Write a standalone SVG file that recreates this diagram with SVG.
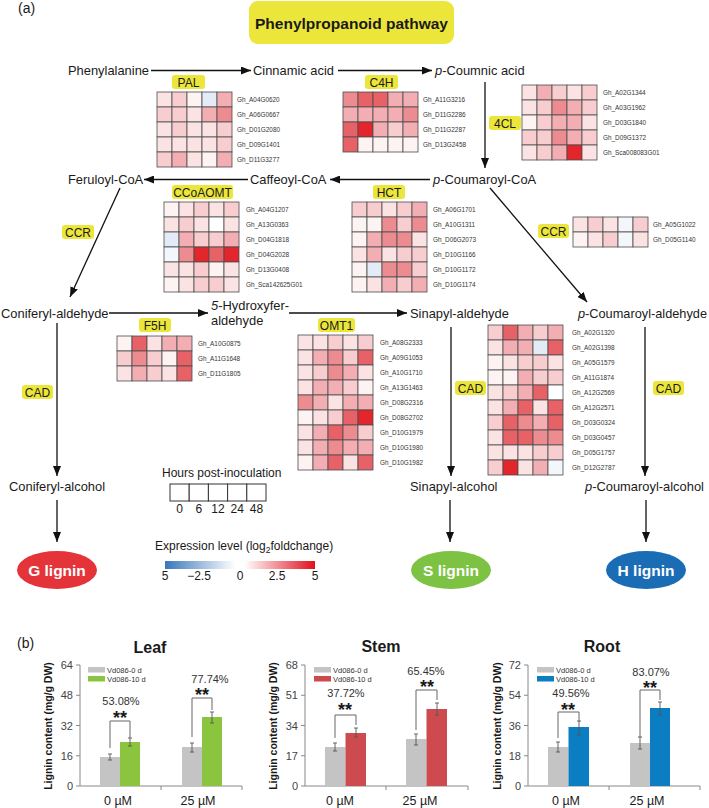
<svg xmlns="http://www.w3.org/2000/svg" width="709" height="808" viewBox="0 0 709 808">
<defs>
<style>
text{font-family:"Liberation Sans",Arial,sans-serif;fill:#1a1a1a}
.t{font-size:12.9px}
.lab{font-size:12px;text-anchor:middle}
.yl{fill:#ece63a}
.g{font-size:6.4px;fill:#333}
.hm rect{stroke:#4d4d4d;stroke-width:0.8}
.c0{fill:#ffffff}.w{fill:#fdf3f3}.p1{fill:#fbe2e3}.p2{fill:#f7cdd0}.p3{fill:#f2aeb2}.p4{fill:#ec8c90}.p5{fill:#e76267}.p6{fill:#e2262c}.b1{fill:#e2ebf6}.b0{fill:#f3f6fb}
.ar{stroke:#111;stroke-width:1.3;fill:none;marker-end:url(#ah)}
.ax{stroke:#888;stroke-width:1;fill:none}
.tk{font-size:11px;fill:#444;text-anchor:end}
.eb{stroke:#555;stroke-width:0.9;fill:none}
.br{stroke:#666;stroke-width:1;fill:none}
.st{font-size:18px;font-weight:bold;text-anchor:middle}
.pc{font-size:11px;text-anchor:middle;fill:#333}
.lg{font-size:7.5px;fill:#333}
.xl{font-size:12.5px;text-anchor:middle}
.ct{font-size:16px;font-weight:bold;text-anchor:middle}
.yt{font-size:10.5px;font-weight:bold;text-anchor:middle}
.ov{font-size:15.5px;font-weight:bold;fill:#fff;text-anchor:middle}
.gr{fill:#c4c4c4}
</style>
<marker id="ah" markerUnits="userSpaceOnUse" markerWidth="10" markerHeight="8" refX="10" refY="4" orient="auto">
<path d="M0,0 L10,4 L0,8 z" fill="#111"/>
</marker>
<linearGradient id="cb" x1="0" y1="0" x2="1" y2="0">
<stop offset="0" stop-color="#3c76bb"/>
<stop offset="0.47" stop-color="#ffffff"/>
<stop offset="0.53" stop-color="#ffffff"/>
<stop offset="1" stop-color="#e1101c"/>
</linearGradient>
</defs>
<rect width="709" height="808" fill="#fff"/>

<text x="18" y="13" style="font-size:14px">(a)</text>

<g id="title">
<rect x="249" y="1" width="205" height="43" rx="9" class="yl"/>
<text x="351.5" y="29" style="font-size:15.5px;font-weight:bold;text-anchor:middle">Phenylpropanoid pathway</text>
</g>

<g id="connectors">
<line class="ar" x1="151" y1="70.5" x2="251" y2="70.5"/>
<line class="ar" x1="338" y1="70.5" x2="432" y2="70.5"/>
<line class="ar" x1="485" y1="82" x2="485" y2="168"/>
<line class="ar" x1="430" y1="179.5" x2="330" y2="179.5"/>
<line class="ar" x1="248" y1="179.5" x2="144" y2="179.5"/>
<line class="ar" x1="120" y1="188" x2="70" y2="297"/>
<line class="ar" x1="490" y1="188" x2="587" y2="302"/>
<line class="ar" x1="109" y1="313" x2="208" y2="313"/>
<line class="ar" x1="289" y1="313" x2="407" y2="313"/>
<line class="ar" x1="57" y1="323" x2="57" y2="476"/>
<line class="ar" x1="451" y1="327" x2="451" y2="476"/>
<line class="ar" x1="645" y1="327" x2="645" y2="476"/>
<line class="ar" x1="57" y1="500" x2="57" y2="542"/>
<line class="ar" x1="450" y1="500" x2="450" y2="542"/>
<line class="ar" x1="646" y1="500" x2="646" y2="542"/>
</g>

<g id="n-phenylalanine"><text class="t" x="68" y="75">Phenylalanine</text></g>
<g id="n-cinnamic"><text class="t" x="253" y="75">Cinnamic acid</text></g>
<g id="n-coumnic"><text class="t" x="435" y="75"><tspan font-style="italic">p</tspan>-Coumnic acid</text></g>
<g id="n-feruloyl"><text class="t" x="68" y="184">Feruloyl-CoA</text></g>
<g id="n-caffeoyl"><text class="t" x="250" y="184">Caffeoyl-CoA</text></g>
<g id="n-coumaroylcoa"><text class="t" x="433" y="184"><tspan font-style="italic">p</tspan>-Coumaroyl-CoA</text></g>
<g id="n-conald"><text class="t" x="1" y="317.5">Coniferyl-aldehyde</text></g>
<g id="n-hydroxy"><text class="t" x="211" y="310"><tspan font-style="italic">5</tspan>-Hydroxyfer-</text><text class="t" x="211" y="325">aldehyde</text></g>
<g id="n-sinald"><text class="t" x="410" y="317.5">Sinapyl-aldehyde</text></g>
<g id="n-coumald"><text class="t" x="578" y="317.5" textLength="129" lengthAdjust="spacingAndGlyphs"><tspan font-style="italic">p</tspan>-Coumaroyl-aldehyde</text></g>
<g id="n-conalc"><text class="t" x="9" y="491">Coniferyl-alcohol</text></g>
<g id="n-sinalc"><text class="t" x="410" y="491">Sinapyl-alcohol</text></g>
<g id="n-coumalc"><text class="t" x="585" y="491"><tspan font-style="italic">p</tspan>-Coumaroyl-alcohol</text></g>

<g id="n-glignin"><ellipse cx="57" cy="570" rx="40" ry="19" fill="#e5333a"/><text class="ov" x="57" y="575.5">G lignin</text></g>
<g id="n-slignin"><ellipse cx="451" cy="570" rx="40" ry="19" fill="#7dc242"/><text class="ov" x="451" y="575.5">S lignin</text></g>
<g id="n-hlignin"><ellipse cx="646" cy="570" rx="40" ry="19" fill="#1a6db5"/><text class="ov" x="646" y="575.5">H lignin</text></g>

<g id="enzyme-labels">
<rect class="yl" x="172" y="75" width="33" height="14" rx="3"/><text class="lab" x="188.5" y="86.5">PAL</text>
<rect class="yl" x="365" y="75" width="33" height="14" rx="3"/><text class="lab" x="381.5" y="86.5">C4H</text>
<rect class="yl" x="489" y="116" width="32" height="14" rx="3"/><text class="lab" x="505" y="127.5">4CL</text>
<rect class="yl" x="172" y="185" width="61" height="14" rx="3"/><text class="lab" x="202.5" y="196.5">CCoAOMT</text>
<rect class="yl" x="373" y="185" width="32" height="14" rx="3"/><text class="lab" x="389" y="196.5">HCT</text>
<rect class="yl" x="62" y="225" width="32" height="14" rx="3"/><text class="lab" x="78" y="236.5">CCR</text>
<rect class="yl" x="538" y="224" width="31" height="14" rx="3"/><text class="lab" x="553.5" y="235.5">CCR</text>
<rect class="yl" x="139" y="318" width="32" height="14" rx="3"/><text class="lab" x="155" y="329.5">F5H</text>
<rect class="yl" x="318" y="318" width="37" height="14" rx="3"/><text class="lab" x="336.5" y="329.5">OMT1</text>
<rect class="yl" x="22" y="385" width="31" height="14" rx="3"/><text class="lab" x="37.5" y="396.5">CAD</text>
<rect class="yl" x="455" y="381" width="31" height="14" rx="3"/><text class="lab" x="470.5" y="392.5">CAD</text>
<rect class="yl" x="653" y="381" width="31" height="14" rx="3"/><text class="lab" x="668.5" y="392.5">CAD</text>
</g>

<g id="hm-pal" class="hm" transform="translate(157,92)">
<rect class="p1" x="0" y="0" width="15" height="15"/><rect class="p2" x="15" y="0" width="15" height="15"/><rect class="w" x="30" y="0" width="15" height="15"/><rect class="b1" x="45" y="0" width="15" height="15"/><rect class="p3" x="60" y="0" width="15" height="15"/>
<rect class="p2" x="0" y="15" width="15" height="15"/><rect class="p2" x="15" y="15" width="15" height="15"/><rect class="p1" x="30" y="15" width="15" height="15"/><rect class="p3" x="45" y="15" width="15" height="15"/><rect class="p4" x="60" y="15" width="15" height="15"/>
<rect class="p1" x="0" y="30" width="15" height="15"/><rect class="p2" x="15" y="30" width="15" height="15"/><rect class="p1" x="30" y="30" width="15" height="15"/><rect class="p1" x="45" y="30" width="15" height="15"/><rect class="p2" x="60" y="30" width="15" height="15"/>
<rect class="p1" x="0" y="45" width="15" height="15"/><rect class="p1" x="15" y="45" width="15" height="15"/><rect class="p1" x="30" y="45" width="15" height="15"/><rect class="p1" x="45" y="45" width="15" height="15"/><rect class="p2" x="60" y="45" width="15" height="15"/>
<rect class="p2" x="0" y="60" width="15" height="15"/><rect class="p3" x="15" y="60" width="15" height="15"/><rect class="p1" x="30" y="60" width="15" height="15"/><rect class="w" x="45" y="60" width="15" height="15"/><rect class="p3" x="60" y="60" width="15" height="15"/>
<text class="g" x="80" y="9.7">Gh_A04G0620</text><text class="g" x="80" y="24.7">Gh_A06G0667</text><text class="g" x="80" y="39.7">Gh_D01G2080</text><text class="g" x="80" y="54.7">Gh_D09G1401</text><text class="g" x="80" y="69.7">Gh_D11G3277</text>
</g>

<g id="hm-c4h" class="hm" transform="translate(343,92)">
<rect class="p4" x="0" y="0" width="15" height="15"/><rect class="p5" x="15" y="0" width="15" height="15"/><rect class="p5" x="30" y="0" width="15" height="15"/><rect class="p3" x="45" y="0" width="15" height="15"/><rect class="p3" x="60" y="0" width="15" height="15"/>
<rect class="p3" x="0" y="15" width="15" height="15"/><rect class="p3" x="15" y="15" width="15" height="15"/><rect class="p3" x="30" y="15" width="15" height="15"/><rect class="p3" x="45" y="15" width="15" height="15"/><rect class="p4" x="60" y="15" width="15" height="15"/>
<rect class="p5" x="0" y="30" width="15" height="15"/><rect class="p6" x="15" y="30" width="15" height="15"/><rect class="p3" x="30" y="30" width="15" height="15"/><rect class="p2" x="45" y="30" width="15" height="15"/><rect class="p3" x="60" y="30" width="15" height="15"/>
<rect class="p5" x="0" y="45" width="15" height="15"/><rect class="w" x="15" y="45" width="15" height="15"/><rect class="w" x="30" y="45" width="15" height="15"/><rect class="w" x="45" y="45" width="15" height="15"/><rect class="w" x="60" y="45" width="15" height="15"/>
<text class="g" x="80" y="9.7">Gh_A11G3216</text><text class="g" x="80" y="24.7">Gh_D11G2286</text><text class="g" x="80" y="39.7">Gh_D11G2287</text><text class="g" x="80" y="54.7">Gh_D13G2458</text>
</g>

<g id="hm-4cl" class="hm" transform="translate(522,85)">
<rect class="p1" x="0" y="0" width="15" height="15"/><rect class="p3" x="15" y="0" width="15" height="15"/><rect class="p2" x="30" y="0" width="15" height="15"/><rect class="p1" x="45" y="0" width="15" height="15"/><rect class="p2" x="60" y="0" width="15" height="15"/>
<rect class="p1" x="0" y="15" width="15" height="15"/><rect class="p2" x="15" y="15" width="15" height="15"/><rect class="p4" x="30" y="15" width="15" height="15"/><rect class="p3" x="45" y="15" width="15" height="15"/><rect class="p2" x="60" y="15" width="15" height="15"/>
<rect class="w" x="0" y="30" width="15" height="15"/><rect class="p2" x="15" y="30" width="15" height="15"/><rect class="p3" x="30" y="30" width="15" height="15"/><rect class="p3" x="45" y="30" width="15" height="15"/><rect class="p1" x="60" y="30" width="15" height="15"/>
<rect class="p2" x="0" y="45" width="15" height="15"/><rect class="p2" x="15" y="45" width="15" height="15"/><rect class="p4" x="30" y="45" width="15" height="15"/><rect class="p3" x="45" y="45" width="15" height="15"/><rect class="p2" x="60" y="45" width="15" height="15"/>
<rect class="p1" x="0" y="60" width="15" height="15"/><rect class="p2" x="15" y="60" width="15" height="15"/><rect class="p3" x="30" y="60" width="15" height="15"/><rect class="p6" x="45" y="60" width="15" height="15"/><rect class="p1" x="60" y="60" width="15" height="15"/>
<text class="g" x="81" y="9.7">Gh_A02G1344</text><text class="g" x="81" y="24.7">Gh_A03G1962</text><text class="g" x="81" y="39.7">Gh_D03G1840</text><text class="g" x="81" y="54.7">Gh_D09G1372</text><text class="g" x="81" y="69.7">Gh_Sca008083G01</text>
</g>

<g id="hm-ccoaomt" class="hm" transform="translate(164,202)">
<rect class="w" x="0" y="0" width="15" height="15"/><rect class="p1" x="15" y="0" width="15" height="15"/><rect class="p2" x="30" y="0" width="15" height="15"/><rect class="p1" x="45" y="0" width="15" height="15"/><rect class="p2" x="60" y="0" width="15" height="15"/>
<rect class="p1" x="0" y="15" width="15" height="15"/><rect class="p2" x="15" y="15" width="15" height="15"/><rect class="p1" x="30" y="15" width="15" height="15"/><rect class="c0" x="45" y="15" width="15" height="15"/><rect class="p1" x="60" y="15" width="15" height="15"/>
<rect class="b1" x="0" y="30" width="15" height="15"/><rect class="p3" x="15" y="30" width="15" height="15"/><rect class="p2" x="30" y="30" width="15" height="15"/><rect class="p2" x="45" y="30" width="15" height="15"/><rect class="p3" x="60" y="30" width="15" height="15"/>
<rect class="b0" x="0" y="45" width="15" height="15"/><rect class="p4" x="15" y="45" width="15" height="15"/><rect class="p6" x="30" y="45" width="15" height="15"/><rect class="p5" x="45" y="45" width="15" height="15"/><rect class="p6" x="60" y="45" width="15" height="15"/>
<rect class="p1" x="0" y="60" width="15" height="15"/><rect class="p1" x="15" y="60" width="15" height="15"/><rect class="p2" x="30" y="60" width="15" height="15"/><rect class="w" x="45" y="60" width="15" height="15"/><rect class="p1" x="60" y="60" width="15" height="15"/>
<rect class="w" x="0" y="75" width="15" height="15"/><rect class="p1" x="15" y="75" width="15" height="15"/><rect class="p2" x="30" y="75" width="15" height="15"/><rect class="p2" x="45" y="75" width="15" height="15"/><rect class="p1" x="60" y="75" width="15" height="15"/>
<text class="g" x="82" y="9.7">Gh_A04G1207</text><text class="g" x="82" y="24.7">Gh_A13G0363</text><text class="g" x="82" y="39.7">Gh_D04G1818</text><text class="g" x="82" y="54.7">Gh_D04G2028</text><text class="g" x="82" y="69.7">Gh_D13G0408</text><text class="g" x="82" y="84.7">Gh_Sca142625G01</text>
</g>

<g id="hm-hct" class="hm" transform="translate(352,202)">
<rect class="p2" x="0" y="0" width="15" height="15"/><rect class="p2" x="15" y="0" width="15" height="15"/><rect class="p1" x="30" y="0" width="15" height="15"/><rect class="p2" x="45" y="0" width="15" height="15"/><rect class="p3" x="60" y="0" width="15" height="15"/>
<rect class="w" x="0" y="15" width="15" height="15"/><rect class="w" x="15" y="15" width="15" height="15"/><rect class="p4" x="30" y="15" width="15" height="15"/><rect class="p2" x="45" y="15" width="15" height="15"/><rect class="p4" x="60" y="15" width="15" height="15"/>
<rect class="w" x="0" y="30" width="15" height="15"/><rect class="p3" x="15" y="30" width="15" height="15"/><rect class="p4" x="30" y="30" width="15" height="15"/><rect class="p4" x="45" y="30" width="15" height="15"/><rect class="p1" x="60" y="30" width="15" height="15"/>
<rect class="p1" x="0" y="45" width="15" height="15"/><rect class="p3" x="15" y="45" width="15" height="15"/><rect class="p1" x="30" y="45" width="15" height="15"/><rect class="p2" x="45" y="45" width="15" height="15"/><rect class="p2" x="60" y="45" width="15" height="15"/>
<rect class="w" x="0" y="60" width="15" height="15"/><rect class="b1" x="15" y="60" width="15" height="15"/><rect class="p4" x="30" y="60" width="15" height="15"/><rect class="p4" x="45" y="60" width="15" height="15"/><rect class="p2" x="60" y="60" width="15" height="15"/>
<rect class="w" x="0" y="75" width="15" height="15"/><rect class="p1" x="15" y="75" width="15" height="15"/><rect class="p3" x="30" y="75" width="15" height="15"/><rect class="p2" x="45" y="75" width="15" height="15"/><rect class="p3" x="60" y="75" width="15" height="15"/>
<text class="g" x="81" y="9.7">Gh_A06G1701</text><text class="g" x="81" y="24.7">Gh_A10G1311</text><text class="g" x="81" y="39.7">Gh_D06G2073</text><text class="g" x="81" y="54.7">Gh_D10G1166</text><text class="g" x="81" y="69.7">Gh_D10G1172</text><text class="g" x="81" y="84.7">Gh_D10G1174</text>
</g>

<g id="hm-ccr" class="hm" transform="translate(573,217)">
<rect class="p1" x="0" y="0" width="15" height="15"/><rect class="p2" x="15" y="0" width="15" height="15"/><rect class="p1" x="30" y="0" width="15" height="15"/><rect class="b0" x="45" y="0" width="15" height="15"/><rect class="p2" x="60" y="0" width="15" height="15"/>
<rect class="w" x="0" y="15" width="15" height="15"/><rect class="p1" x="15" y="15" width="15" height="15"/><rect class="p2" x="30" y="15" width="15" height="15"/><rect class="b0" x="45" y="15" width="15" height="15"/><rect class="p1" x="60" y="15" width="15" height="15"/>
<text class="g" x="80" y="9.7">Gh_A05G1022</text><text class="g" x="80" y="24.7">Gh_D05G1140</text>
</g>

<g id="hm-f5h" class="hm" transform="translate(117,336)">
<rect class="w" x="0" y="0" width="15" height="15"/><rect class="p5" x="15" y="0" width="15" height="15"/><rect class="p1" x="30" y="0" width="15" height="15"/><rect class="p3" x="45" y="0" width="15" height="15"/><rect class="p3" x="60" y="0" width="15" height="15"/>
<rect class="p2" x="0" y="15" width="15" height="15"/><rect class="p4" x="15" y="15" width="15" height="15"/><rect class="p2" x="30" y="15" width="15" height="15"/><rect class="w" x="45" y="15" width="15" height="15"/><rect class="p5" x="60" y="15" width="15" height="15"/>
<rect class="p1" x="0" y="30" width="15" height="15"/><rect class="p3" x="15" y="30" width="15" height="15"/><rect class="p2" x="30" y="30" width="15" height="15"/><rect class="p1" x="45" y="30" width="15" height="15"/><rect class="p5" x="60" y="30" width="15" height="15"/>
<text class="g" x="81" y="9.7">Gh_A10G0875</text><text class="g" x="81" y="24.7">Gh_A11G1648</text><text class="g" x="81" y="39.7">Gh_D11G1805</text>
</g>

<g id="hm-omt1" class="hm" transform="translate(298,335)">
<rect class="p1" x="0" y="0" width="15" height="15"/><rect class="p1" x="15" y="0" width="15" height="15"/><rect class="p2" x="30" y="0" width="15" height="15"/><rect class="p1" x="45" y="0" width="15" height="15"/><rect class="p2" x="60" y="0" width="15" height="15"/>
<rect class="p1" x="0" y="15" width="15" height="15"/><rect class="p3" x="15" y="15" width="15" height="15"/><rect class="p4" x="30" y="15" width="15" height="15"/><rect class="p2" x="45" y="15" width="15" height="15"/><rect class="p5" x="60" y="15" width="15" height="15"/>
<rect class="p1" x="0" y="30" width="15" height="15"/><rect class="p2" x="15" y="30" width="15" height="15"/><rect class="p4" x="30" y="30" width="15" height="15"/><rect class="p3" x="45" y="30" width="15" height="15"/><rect class="p1" x="60" y="30" width="15" height="15"/>
<rect class="p1" x="0" y="45" width="15" height="15"/><rect class="p3" x="15" y="45" width="15" height="15"/><rect class="p3" x="30" y="45" width="15" height="15"/><rect class="p2" x="45" y="45" width="15" height="15"/><rect class="w" x="60" y="45" width="15" height="15"/>
<rect class="p4" x="0" y="60" width="15" height="15"/><rect class="p3" x="15" y="60" width="15" height="15"/><rect class="p1" x="30" y="60" width="15" height="15"/><rect class="p3" x="45" y="60" width="15" height="15"/><rect class="p3" x="60" y="60" width="15" height="15"/>
<rect class="w" x="0" y="75" width="15" height="15"/><rect class="p1" x="15" y="75" width="15" height="15"/><rect class="p2" x="30" y="75" width="15" height="15"/><rect class="p5" x="45" y="75" width="15" height="15"/><rect class="p6" x="60" y="75" width="15" height="15"/>
<rect class="p1" x="0" y="90" width="15" height="15"/><rect class="p3" x="15" y="90" width="15" height="15"/><rect class="p5" x="30" y="90" width="15" height="15"/><rect class="p4" x="45" y="90" width="15" height="15"/><rect class="p2" x="60" y="90" width="15" height="15"/>
<rect class="p1" x="0" y="105" width="15" height="15"/><rect class="p3" x="15" y="105" width="15" height="15"/><rect class="p4" x="30" y="105" width="15" height="15"/><rect class="p3" x="45" y="105" width="15" height="15"/><rect class="p3" x="60" y="105" width="15" height="15"/>
<rect class="w" x="0" y="120" width="15" height="15"/><rect class="p3" x="15" y="120" width="15" height="15"/><rect class="p5" x="30" y="120" width="15" height="15"/><rect class="p1" x="45" y="120" width="15" height="15"/><rect class="p5" x="60" y="120" width="15" height="15"/>
<text class="g" x="82" y="9.7">Gh_A08G2333</text><text class="g" x="82" y="24.7">Gh_A09G1053</text><text class="g" x="82" y="39.7">Gh_A10G1710</text><text class="g" x="82" y="54.7">Gh_A13G1463</text><text class="g" x="82" y="69.7">Gh_D08G2316</text><text class="g" x="82" y="84.7">Gh_D08G2702</text><text class="g" x="82" y="99.7">Gh_D10G1979</text><text class="g" x="82" y="114.7">Gh_D10G1980</text><text class="g" x="82" y="129.7">Gh_D10G1982</text>
</g>

<g id="hm-cad" class="hm" transform="translate(488,325)">
<rect class="p2" x="0" y="0" width="15" height="15"/><rect class="p5" x="15" y="0" width="15" height="15"/><rect class="p3" x="30" y="0" width="15" height="15"/><rect class="p2" x="45" y="0" width="15" height="15"/><rect class="p3" x="60" y="0" width="15" height="15"/>
<rect class="p1" x="0" y="15" width="15" height="15"/><rect class="p3" x="15" y="15" width="15" height="15"/><rect class="p3" x="30" y="15" width="15" height="15"/><rect class="b1" x="45" y="15" width="15" height="15"/><rect class="p5" x="60" y="15" width="15" height="15"/>
<rect class="w" x="0" y="30" width="15" height="15"/><rect class="p1" x="15" y="30" width="15" height="15"/><rect class="p2" x="30" y="30" width="15" height="15"/><rect class="p2" x="45" y="30" width="15" height="15"/><rect class="p1" x="60" y="30" width="15" height="15"/>
<rect class="w" x="0" y="45" width="15" height="15"/><rect class="w" x="15" y="45" width="15" height="15"/><rect class="p3" x="30" y="45" width="15" height="15"/><rect class="p2" x="45" y="45" width="15" height="15"/><rect class="p2" x="60" y="45" width="15" height="15"/>
<rect class="p1" x="0" y="60" width="15" height="15"/><rect class="p2" x="15" y="60" width="15" height="15"/><rect class="p3" x="30" y="60" width="15" height="15"/><rect class="p5" x="45" y="60" width="15" height="15"/><rect class="c0" x="60" y="60" width="15" height="15"/>
<rect class="p1" x="0" y="75" width="15" height="15"/><rect class="p3" x="15" y="75" width="15" height="15"/><rect class="p5" x="30" y="75" width="15" height="15"/><rect class="p1" x="45" y="75" width="15" height="15"/><rect class="p5" x="60" y="75" width="15" height="15"/>
<rect class="p2" x="0" y="90" width="15" height="15"/><rect class="p5" x="15" y="90" width="15" height="15"/><rect class="p4" x="30" y="90" width="15" height="15"/><rect class="p3" x="45" y="90" width="15" height="15"/><rect class="p5" x="60" y="90" width="15" height="15"/>
<rect class="p1" x="0" y="105" width="15" height="15"/><rect class="p5" x="15" y="105" width="15" height="15"/><rect class="p5" x="30" y="105" width="15" height="15"/><rect class="p4" x="45" y="105" width="15" height="15"/><rect class="p4" x="60" y="105" width="15" height="15"/>
<rect class="p1" x="0" y="120" width="15" height="15"/><rect class="p1" x="15" y="120" width="15" height="15"/><rect class="p1" x="30" y="120" width="15" height="15"/><rect class="p2" x="45" y="120" width="15" height="15"/><rect class="p2" x="60" y="120" width="15" height="15"/>
<rect class="p2" x="0" y="135" width="15" height="15"/><rect class="p6" x="15" y="135" width="15" height="15"/><rect class="p1" x="30" y="135" width="15" height="15"/><rect class="p3" x="45" y="135" width="15" height="15"/><rect class="b0" x="60" y="135" width="15" height="15"/>
<text class="g" x="84" y="9.7">Gh_A02G1320</text><text class="g" x="84" y="24.7">Gh_A02G1398</text><text class="g" x="84" y="39.7">Gh_A05G1579</text><text class="g" x="84" y="54.7">Gh_A11G1874</text><text class="g" x="84" y="69.7">Gh_A12G2569</text><text class="g" x="84" y="84.7">Gh_A12G2571</text><text class="g" x="84" y="99.7">Gh_D03G0324</text><text class="g" x="84" y="114.7">Gh_D03G0457</text><text class="g" x="84" y="129.7">Gh_D05G1757</text><text class="g" x="84" y="144.7">Gh_D12G2787</text>
</g>

<g id="legend-hours">
<text x="162" y="477" style="font-size:12px">Hours post-inoculation</text>
<g fill="#fff" stroke="#333" stroke-width="1">
<rect x="170" y="484" width="19.2" height="17"/><rect x="189.2" y="484" width="19.2" height="17"/><rect x="208.4" y="484" width="19.2" height="17"/><rect x="227.6" y="484" width="19.2" height="17"/><rect x="246.8" y="484" width="19.2" height="17"/>
</g>
<g style="font-size:12px;text-anchor:middle">
<text x="179.6" y="513">0</text><text x="198.8" y="513">6</text><text x="218" y="513">12</text><text x="237.2" y="513">24</text><text x="256.4" y="513">48</text>
</g>
</g>

<g id="legend-colorbar">
<text x="155" y="550" style="font-size:12px">Expression level (log<tspan dy="3" style="font-size:8.5px">2</tspan><tspan dy="-3">foldchange)</tspan></text>
<rect x="165" y="561" width="150" height="8" fill="url(#cb)"/>
<g style="font-size:12px;text-anchor:middle">
<text x="165" y="580">5</text><text x="199" y="580">−2.5</text><text x="240" y="580">0</text><text x="277" y="580">2.5</text><text x="315" y="580">5</text>
</g>
</g>

<text x="17" y="648" style="font-size:14px">(b)</text>

<g id="chart-leaf">
<text class="ct" x="150" y="653">Leaf</text>
<text class="yt" transform="translate(52,726) rotate(-90)">Lignin content (mg/g DW)</text>
<path class="ax" d="M80,665 V786 H242 M76,665 H80 M76,695.25 H80 M76,725.5 H80 M76,755.75 H80 M76,786 H80 M161,786 V790 M242,786 V790"/>
<text class="tk" x="73" y="669">64</text><text class="tk" x="73" y="699">48</text><text class="tk" x="73" y="729.5">32</text><text class="tk" x="73" y="760">16</text><text class="tk" x="73" y="790">0</text>
<rect class="gr" x="88" y="667" width="17" height="5.5"/><text class="lg" x="107" y="672.5">Vd086-0 d</text>
<rect x="88" y="676" width="17" height="5.5" fill="#8bc53f"/><text class="lg" x="107" y="681.5">Vd086-10 d</text>
<rect class="gr" x="100" y="757" width="20" height="29"/>
<rect x="120" y="742" width="20" height="44" fill="#8bc53f"/>
<rect class="gr" x="182" y="747" width="20" height="39"/>
<rect x="202" y="717" width="20" height="69" fill="#8bc53f"/>
<path class="eb" d="M110,754 V760 M108,754 H112 M108,760 H112 M130,738 V746 M128,738 H132 M128,746 H132 M192,743 V752 M190,743 H194 M190,752 H194 M212,712 V723 M210,712 H214 M210,723 H214"/>
<path class="br" d="M110,748 V721 H130 V738 M192,737 V698 H212 V710"/>
<text class="pc" x="121" y="705">53.08%</text><text class="st" x="120" y="724">**</text>
<text class="pc" x="210" y="683">77.74%</text><text class="st" x="202" y="701">**</text>
<text class="xl" x="118" y="805">0 µM</text><text class="xl" x="198" y="805">25 µM</text>
</g>

<g id="chart-stem">
<text class="ct" x="381" y="652">Stem</text>
<text class="yt" transform="translate(277,726) rotate(-90)">Lignin content (mg/g DW)</text>
<path class="ax" d="M305,665 V786 H468 M301,665 H305 M301,695.25 H305 M301,725.5 H305 M301,755.75 H305 M301,786 H305 M386,786 V790 M468,786 V790"/>
<text class="tk" x="298" y="669">68</text><text class="tk" x="298" y="699">51</text><text class="tk" x="298" y="729.5">34</text><text class="tk" x="298" y="760">17</text><text class="tk" x="298" y="790">0</text>
<rect class="gr" x="314" y="667" width="17" height="5.5"/><text class="lg" x="333" y="672.5">Vd086-0 d</text>
<rect x="314" y="676" width="17" height="5.5" fill="#cd4b4f"/><text class="lg" x="333" y="681.5">Vd086-10 d</text>
<rect class="gr" x="325" y="747" width="20.5" height="39"/>
<rect x="345.5" y="733" width="20.5" height="53" fill="#cd4b4f"/>
<rect class="gr" x="406" y="739" width="20.5" height="47"/>
<rect x="426.5" y="709" width="20.5" height="77" fill="#cd4b4f"/>
<path class="eb" d="M335,743 V751 M333,743 H337 M333,751 H337 M356,728 V737 M354,728 H358 M354,737 H358 M416,734 V745 M414,734 H418 M414,745 H418 M437,703 V715 M435,703 H439 M435,715 H439"/>
<path class="br" d="M335,738 V715 H356 V725 M416,730 V690 H437 V700"/>
<text class="pc" x="346" y="697">37.72%</text><text class="st" x="345" y="716">**</text>
<text class="pc" x="426" y="675">65.45%</text><text class="st" x="427" y="693">**</text>
<text class="xl" x="340" y="805">0 µM</text><text class="xl" x="420" y="805">25 µM</text>
</g>

<g id="chart-root">
<text class="ct" x="602" y="652">Root</text>
<text class="yt" transform="translate(501,726) rotate(-90)">Lignin content (mg/g DW)</text>
<path class="ax" d="M528,665 V786 H700 M524,665 H528 M524,695.25 H528 M524,725.5 H528 M524,755.75 H528 M524,786 H528 M609,786 V790 M700,786 V790"/>
<text class="tk" x="521" y="669">72</text><text class="tk" x="521" y="699">54</text><text class="tk" x="521" y="729.5">36</text><text class="tk" x="521" y="760">18</text><text class="tk" x="521" y="790">0</text>
<rect class="gr" x="537" y="667" width="17" height="5.5"/><text class="lg" x="556" y="672.5">Vd086-0 d</text>
<rect x="537" y="676" width="17" height="5.5" fill="#0b7dc2"/><text class="lg" x="556" y="681.5">Vd086-10 d</text>
<rect class="gr" x="548" y="747" width="20.5" height="39"/>
<rect x="568.5" y="727" width="20.5" height="59" fill="#0b7dc2"/>
<rect class="gr" x="630" y="743" width="20" height="43"/>
<rect x="650" y="708" width="20" height="78" fill="#0b7dc2"/>
<path class="eb" d="M558,742 V752 M556,742 H560 M556,752 H560 M579,721 V735 M577,721 H581 M577,735 H581 M640,737 V749 M638,737 H642 M638,749 H642 M660,702 V715 M658,702 H662 M658,715 H662"/>
<path class="br" d="M558,738 V712 H579 V721 M640,737 V690 H660 V700"/>
<text class="pc" x="571" y="697">49.56%</text><text class="st" x="568" y="716">**</text>
<text class="pc" x="651" y="676">83.07%</text><text class="st" x="650" y="694">**</text>
<text class="xl" x="566" y="805">0 µM</text><text class="xl" x="647" y="805">25 µM</text>
</g>
</svg>
